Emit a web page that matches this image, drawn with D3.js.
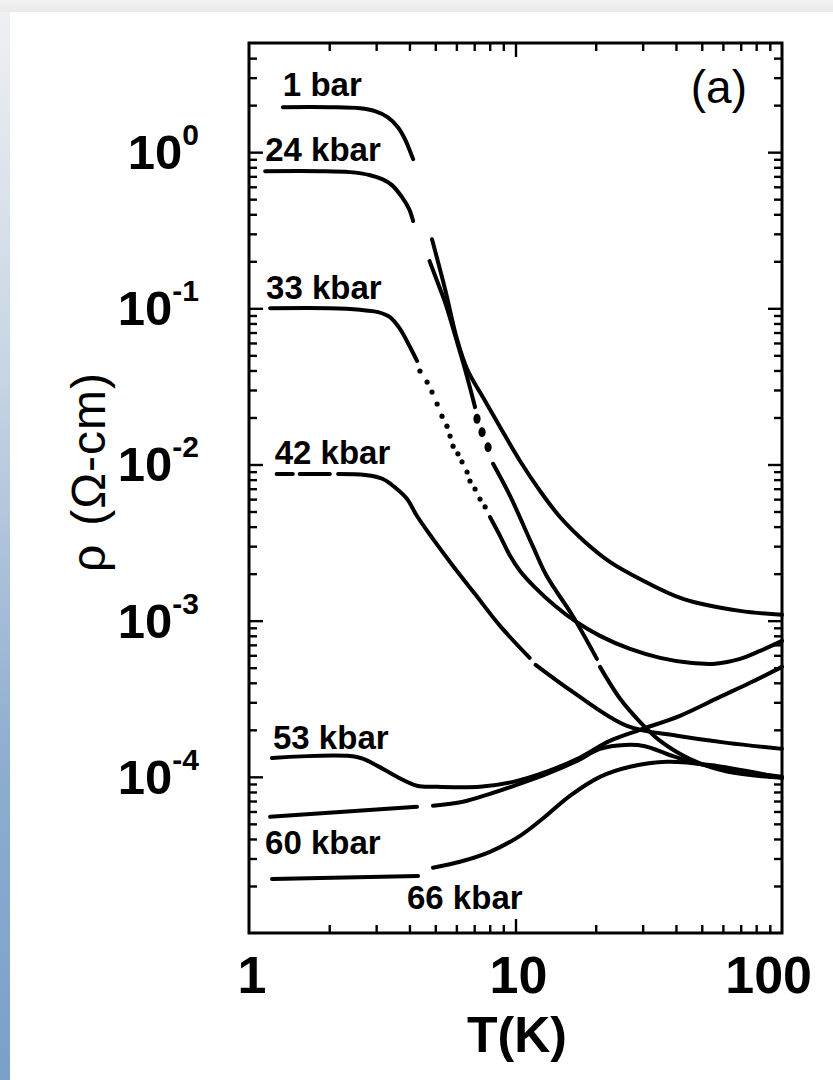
<!DOCTYPE html>
<html>
<head>
<meta charset="utf-8">
<script src="https://cdn.jsdelivr.net/npm/d3@7"></script>
<style>
  body { margin: 0; background: #fff; }
  svg { display: block; }
  text { font-family: "Liberation Sans", Arial, Helvetica, sans-serif; fill: #000; }
</style>
</head>
<body>
<svg id="chart" width="833" height="1080"></svg>
<script>
// Resistivity rho (ohm-cm) against temperature T (K) at several pressures.
// Each trace is a list of [T, rho]; null marks a break in the recorded trace.
const trace1bar = [[1.34,1.94],[2.01,1.94],[2.61,1.91],[2.97,1.83],[3.32,1.67],[3.62,1.445],[3.85,1.21],[4.02,1.015],[4.13,0.902],
  null,[4.86,0.277],[5.44,0.133],[6.03,0.0636],[6.58,0.0409],[7.69,0.0255],[8.75,0.01738],[10.4,0.01053],[12.36,0.00677],
  [14.69,0.00461],[18.23,0.00319],[22.6,0.00238],[29.3,0.00185],[42.5,0.00138],[69.6,0.001155],[100,0.00109]];
const trace24kbar = [[1.15,0.756],[1.85,0.756],[2.39,0.745],[2.85,0.712],[3.16,0.672],[3.44,0.615],[3.75,0.515],[3.99,0.432],[4.13,0.362],
  null,[4.76,0.2006],[5.13,0.143],[5.47,0.1065],[5.99,0.0636],[6.46,0.0409],[6.77,0.0304],[7.05,0.0233],
  null,[8.24,0.0101],[9.54,0.00629],[11.6,0.00301],[13.1,0.00193],[16.4,0.00107],[20.2,0.000569],
  null,[20.75,0.000506],[24.7,0.000316],[29.3,0.000225],[34.9,0.00017],[45.2,0.00013],[62.2,0.000108],[100,0.0000985]];
const points24kbar = [[7.17,0.0196],[7.49,0.0161],[7.89,0.0129]];
const trace33kbar = [[1.2,0.1],[2.01,0.1],[2.61,0.0978],[3.05,0.0946],[3.38,0.0879],[3.69,0.0737],[4.02,0.0565],[4.27,0.046],
  null,[8.02,0.00461],[8.75,0.00349],[9.54,0.0026],[10.4,0.00208],[11.8,0.00164],[14.1,0.00124],[16.7,0.000996],[20.75,0.000799],
  [26.9,0.000659],[34.9,0.000578],[45.2,0.000537],[56.1,0.00053],[69.6,0.000569],[82.7,0.00064],[100,0.000742]];
const points33kbar = [[4.38,0.0397],[4.66,0.0337],[4.86,0.0291],[5.08,0.0244],[5.30,0.0204],[5.53,0.0176],[5.68,0.0152],[5.83,0.0131],
  [6.08,0.0117],[6.30,0.0104],[6.58,0.00895],[6.75,0.00784],[7.05,0.00697],[7.36,0.00601],[7.69,0.00535]];
const trace42kbar = [[1.27,0.0087],[1.46,0.0087],null,[1.55,0.0087],[2.01,0.0087],null,[2.16,0.0087],[2.73,0.00857],[3.18,0.00808],
  [3.59,0.00697],[3.92,0.00601],[4.27,0.00468],[4.9,0.00334],[5.83,0.00224],[7.05,0.00148],[8.75,0.000926],[11.3,0.000578],
  null,[11.9,0.000521],[16.4,0.00035],[26.2,0.000212],[40.4,0.000183],[62.2,0.000165],[100,0.000151]];
const trace53kbar = [[1.22,0.000132],[2.54,0.000134],[3.02,0.000118],[3.59,0.0001],[4.27,0.0000876],[5.08,0.0000863],[7.36,0.0000863],
  [9.79,0.0000929],[13.1,0.000108],[17.0,0.00013],[22.6,0.00017],[29.3,0.0002],[41.4,0.000246],[58.5,0.000325],[75.9,0.0004],[100,0.000506]];
const trace60kbar = [[1.2,0.0000555],[4.27,0.0000643],null,[4.9,0.0000652],[6.35,0.0000692],[8.02,0.0000778],[10.1,0.0000889],
  [13.1,0.0001045],[17.0,0.0001266],[20.75,0.000151],[25.8,0.00016],[30.6,0.000157],[37.0,0.00014],[45.2,0.000125],[63.8,0.000111],[100,0.0001]];
const trace66kbar = [[1.22,0.0000222],[4.31,0.0000232],null,[4.9,0.0000262],[6.19,0.0000286],[8.02,0.0000331],[10.4,0.0000419],
  [12.9,0.0000555],[16.0,0.0000755],[20.75,0.0001],[26.9,0.000116],[37.0,0.000125],[53.7,0.000119],[100,0.0000985]];

const pressureLabels = ["1 bar", "24 kbar", "33 kbar", "42 kbar", "53 kbar", "60 kbar", "66 kbar"];
const xTickLabels = ["1", "10", "100"];
const xMajor = [1, 10, 100];
const yExponents = [0, -1, -2, -3, -4];
const panelTag = "(a)";
const xTitle = "T(K)";
const yTitleSymbol = "\u03c1";
const yTitleUnit = "(\u03a9-cm)";

const traces = [trace1bar, trace24kbar, trace33kbar, trace42kbar, trace53kbar, trace60kbar, trace66kbar];

const svg = d3.select("#chart");
const W = 833, H = 1080;
const frame = { left: 249, right: 782, top: 43, bottom: 933 };

// page backdrop: white sheet with a grey strip above and a blue strip at the left
const defs = svg.append("defs");
const gTop = defs.append("linearGradient").attr("id", "topStrip").attr("x1", 0).attr("y1", 0).attr("x2", 0).attr("y2", 1);
gTop.append("stop").attr("offset", "0%").attr("stop-color", "#f3f3f3");
gTop.append("stop").attr("offset", "100%").attr("stop-color", "#e9e9e9");
const gLeft = defs.append("linearGradient").attr("id", "leftStrip").attr("x1", 0).attr("y1", 0).attr("x2", 0).attr("y2", 1);
gLeft.append("stop").attr("offset", "0%").attr("stop-color", "#eef0f3");
gLeft.append("stop").attr("offset", "35%").attr("stop-color", "#c5d3e3");
gLeft.append("stop").attr("offset", "70%").attr("stop-color", "#8eadd0");
gLeft.append("stop").attr("offset", "100%").attr("stop-color", "#7aa0c9");
svg.append("rect").attr("width", W).attr("height", H).attr("fill", "#fff");
svg.append("rect").attr("width", W).attr("height", 12).attr("fill", "url(#topStrip)");
svg.append("rect").attr("y", 12).attr("width", 10).attr("height", H - 12).attr("fill", "url(#leftStrip)");

const x = d3.scaleLog().domain([1, 100]).range([frame.left, frame.right]);
const y = d3.scaleLog().domain([1e-5, 5]).range([frame.bottom, frame.top]);

// tick values
const xMinor = [];
[1, 10].forEach(d => { for (let k = 2; k <= 9; k++) xMinor.push(k * d); });
const yMinor = [];
for (let e = -5; e <= 0; e++) for (let k = 2; k <= 9; k++) { const v = k * Math.pow(10, e); if (v < 5) yMinor.push(v); }
const yMajor = [1e-4, 1e-3, 1e-2, 1e-1, 1];

const tickStyle = g => {
  g.select(".domain").remove();
  g.selectAll(".tick line").attr("stroke", "#000").attr("stroke-width", 2.4);
  g.selectAll(".tick text").remove();
};
const minorLen = 8, majorLen = 14;
// inward ticks on all four sides
svg.append("g").attr("transform", `translate(0,${frame.bottom})`).call(d3.axisBottom(x).tickValues(xMinor).tickSize(-minorLen).tickFormat("")).call(tickStyle);
svg.append("g").attr("transform", `translate(0,${frame.bottom})`).call(d3.axisBottom(x).tickValues([10]).tickSize(-majorLen).tickFormat("")).call(tickStyle);
svg.append("g").attr("transform", `translate(0,${frame.top})`).call(d3.axisTop(x).tickValues(xMinor).tickSize(-minorLen).tickFormat("")).call(tickStyle);
svg.append("g").attr("transform", `translate(0,${frame.top})`).call(d3.axisTop(x).tickValues([10]).tickSize(-majorLen).tickFormat("")).call(tickStyle);
svg.append("g").attr("transform", `translate(${frame.left},0)`).call(d3.axisLeft(y).tickValues(yMinor).tickSize(-minorLen).tickFormat("")).call(tickStyle);
svg.append("g").attr("transform", `translate(${frame.left},0)`).call(d3.axisLeft(y).tickValues(yMajor).tickSize(-majorLen).tickFormat("")).call(tickStyle);
svg.append("g").attr("transform", `translate(${frame.right},0)`).call(d3.axisRight(y).tickValues(yMinor).tickSize(-minorLen).tickFormat("")).call(tickStyle);
svg.append("g").attr("transform", `translate(${frame.right},0)`).call(d3.axisRight(y).tickValues(yMajor).tickSize(-majorLen).tickFormat("")).call(tickStyle);

// frame
svg.append("rect")
  .attr("x", frame.left).attr("y", frame.top)
  .attr("width", frame.right - frame.left).attr("height", frame.bottom - frame.top)
  .attr("fill", "none").attr("stroke", "#000").attr("stroke-width", 3);

// x tick labels (the last one is pulled in so it stays on the sheet)
svg.append("g").selectAll("text").data(xMajor).join("text")
  .attr("x", (d, i) => i === xMajor.length - 1 ? x(d) + 30 : x(d) + 3)
  .attr("y", 993)
  .attr("text-anchor", (d, i) => i === xMajor.length - 1 ? "end" : "middle")
  .attr("font-size", 52).attr("font-weight", "bold")
  .text((d, i) => xTickLabels[i]);

// y tick labels: 10 with a raised exponent
const yLab = svg.append("g").selectAll("text").data(yExponents).join("text")
  .attr("x", 199).attr("y", d => y(Math.pow(10, d)) + 17)
  .attr("text-anchor", "end").attr("font-weight", "bold");
yLab.append("tspan").attr("font-size", 49).text("10");
yLab.append("tspan").attr("font-size", 30).attr("dy", -24).text(d => d === 0 ? "0" : "-" + Math.abs(d));

// axis titles
svg.append("text").attr("x", 517).attr("y", 1052).attr("text-anchor", "middle")
  .attr("font-size", 50).attr("font-weight", "bold").text(xTitle);
const yTitle = svg.append("text").attr("transform", "translate(105,472) rotate(-90)").attr("text-anchor", "middle")
  .attr("font-size", 48).attr("letter-spacing", 1);
yTitle.append("tspan").text(yTitleSymbol);
yTitle.append("tspan").attr("dx", 18).text(yTitleUnit);

// panel tag
svg.append("text").attr("x", 747).attr("y", 103).attr("text-anchor", "end")
  .attr("font-size", 46).text(panelTag);

// traces
const line = d3.line().defined(d => d !== null)
  .x(d => x(d[0])).y(d => y(d[1]))
  .curve(d3.curveCatmullRom.alpha(0.5));
svg.append("g").selectAll("path").data(traces).join("path")
  .attr("d", line)
  .attr("fill", "none").attr("stroke", "#000").attr("stroke-width", 4)
  .attr("stroke-linecap", "round").attr("stroke-linejoin", "round");

// sparse points in the transition region
svg.append("g").selectAll("circle").data(points33kbar).join("circle")
  .attr("cx", d => x(d[0])).attr("cy", d => y(d[1])).attr("r", 2.6).attr("fill", "#000");
svg.append("g").selectAll("ellipse").data(points24kbar).join("ellipse")
  .attr("cx", d => x(d[0])).attr("cy", d => y(d[1])).attr("rx", 3.6).attr("ry", 5)
  .attr("fill", "#000");

// pressure labels, placed by each trace's starting point
const labelShift = [[0, -11], [0, -10], [-4, -9], [-2, -10], [1, -9], [-5, 37], [135, 30]];
svg.append("g").selectAll("text").data(traces).join("text")
  .attr("x", (d, i) => x(d[0][0]) + labelShift[i][0])
  .attr("y", (d, i) => y(d[0][1]) + labelShift[i][1])
  .attr("font-size", 33).attr("font-weight", "bold")
  .text((d, i) => pressureLabels[i]);
</script>
</body>
</html>
